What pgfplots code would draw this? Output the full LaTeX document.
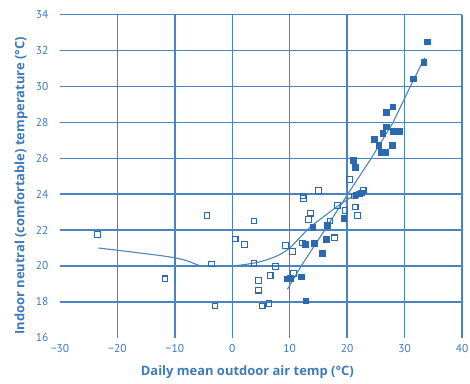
\documentclass[border=0pt]{standalone}
\usepackage{pgfplots}
\pgfplotsset{compat=1.18}
\usepackage{fontspec}
\setmainfont{PT Sans}
\newfontfamily\labelfont{Open Sans}
\definecolor{txtblue}{RGB}{62,122,186}
\definecolor{gridblue}{RGB}{75,130,192}
\definecolor{mkblue}{RGB}{45,105,175}
\begin{document}
\begin{tikzpicture}
\begin{axis}[
  name=ax,
  scale only axis,
  width=402bp, height=323bp,
  xmin=-30, xmax=40, ymin=16, ymax=34,
  xtick={-20,-10,0,10,20,30,40},
  ytick={18,20,...,34},
  extra x ticks={-30},
  extra y ticks={16},
  extra x tick style={grid=none},
  extra y tick style={grid=none},
  xmajorgrids, ymajorgrids,
  major grid style={draw=gridblue, line width=1.4bp},
  axis line style={draw=none},
  major tick length=0pt,
  tick label style={font=\fontsize{11.5}{13}\selectfont, text=txtblue},
  /pgf/number format/assume math mode=true,
  xticklabel={\ifdim\tick pt<0pt −\pgfmathparse{abs(\tick)}\pgfmathprintnumber{\pgfmathresult}\else\pgfmathprintnumber{\tick}\fi},
  xticklabel style={yshift=-3bp},
  yticklabel style={xshift=-8bp},
  xlabel={\labelfont\bfseries Daily mean outdoor air temp (°C)},
  ylabel={\labelfont\bfseries Indoor neutral (comfortable) temperature (°C)},
  label style={font=\fontsize{13}{15}\selectfont, text=txtblue},
  xlabel style={at={(axis description cs:0.466,-0.108)}, anchor=center},
  ylabel style={at={(axis description cs:-0.097,0.47)}, anchor=center},
  clip=false,
]
% smooth fit curve
\addplot[gridblue, line width=1.1bp, smooth, tension=0.5] coordinates {
(-23.3,21.0) (-11.7,20.54) (-8,20.3) (-5.7,20.02) (-3.4,19.97) (0.1,20.0) (3.6,20.15) (5.9,20.33) (8.2,20.62) (10,21.0) (11.7,21.56) (13.5,22.15) (15.2,22.57) (17.5,23.13) (19.85,23.66) (22.6,24.2)
};
% straight-ish fit line
\addplot[gridblue, line width=1.1bp] coordinates {
(9.6,18.7) (12,20.0) (16.1,22.0) (20.1,24.0) (24.2,26.0) (28.0,28.0) (31.0,30.0) (33.5,31.6)
};
% open squares
\addplot[only marks, mark=square, mark size=2.8bp, mark options={draw=mkblue, line width=1.1bp, fill=white, rounded corners=1.4bp}] coordinates {
(-23.5,21.76) (-11.7,19.28) (-4.4,22.8) (-3.6,20.1) (-3.0,17.76) (0.5,21.5) (2.1,21.2) (3.8,22.5) (3.8,20.13) (4.6,19.2) (4.6,18.65) (5.2,17.76) (6.4,17.9) (6.6,19.48) (7.5,19.98) (9.3,21.13) (10.5,20.8) (10.7,19.57) (10.2,19.28) (12.3,23.9) (12.4,23.76) (12.2,21.28) (13.6,22.94) (13.3,22.6) (15.0,24.2) (17.0,22.5) (17.8,21.57) (18.3,23.37) (19.6,23.1) (20.4,24.83) (21.3,23.9) (21.4,23.28) (21.8,22.8) (22.8,24.2)
};
% filled squares
\addplot[only marks, mark=square*, mark size=2.8bp, mark options={draw=mkblue, fill=mkblue, rounded corners=1.4bp}] coordinates {
(9.5,19.28) (10.1,19.3) (12.0,19.39) (12.8,18.07) (12.7,21.2) (14.0,22.15) (14.3,21.28) (15.7,20.72) (16.4,21.5) (16.5,22.28) (19.4,22.65) (21.1,25.9) (21.4,25.5) (21.5,23.96) (22.1,24.02) (22.4,24.08) (24.7,27.06) (25.5,26.74) (25.9,26.33) (26.6,26.33) (26.2,27.4) (26.8,27.75) (26.8,28.55) (27.9,28.88) (27.8,26.74) (28.0,27.5) (28.6,27.5) (29.1,27.5) (31.5,30.43) (33.3,31.36) (33.9,32.5)
};
\end{axis}
\pgfresetboundingbox
\path[use as bounding box] ([xshift=-60bp,yshift=-45.3bp]ax.south west) rectangle ([xshift=8bp,yshift=14.7bp]ax.north east);
\end{tikzpicture}
\end{document}
